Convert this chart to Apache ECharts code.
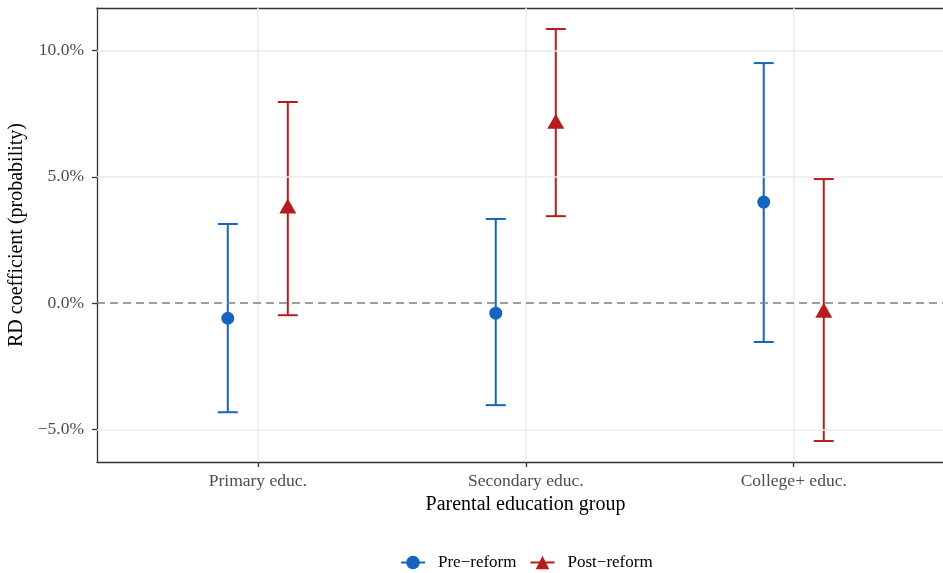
<!DOCTYPE html>
<html>
<head>
<meta charset="UTF-8">
<script src="https://cdn.jsdelivr.net/npm/echarts@6.0.0/dist/echarts.min.js"></script>
<style>
  html, body { margin: 0; padding: 0; background: #fff; }
  #main { width: 943px; height: 573px; }
</style>
</head>
<body>
<div id="main"></div>
<script type="text/javascript">
// data (percent)
var groups = ['Primary educ.', 'Secondary educ.', 'College+ educ.'];
var preEst  = [-0.60, -0.40, 4.00];
var preLow  = [-4.32, -4.04, -1.54];
var preHigh = [3.13, 3.33, 9.50];
var postEst  = [3.84, 7.20, -0.28];
var postLow  = [-0.48, 3.44, -5.46];
var postHigh = [7.96, 10.85, 4.91];
var yTicks = [-5, 0, 5, 10];

var blue = '#1565C0';
var red = '#B71C1C';
var dodge = 0.112;
var font = 'Liberation Serif';

function pts(est, off) {
  return est.map(function (v, i) { return [i + 1 + off, v]; });
}
function bars(lo, hi, off) {
  return lo.map(function (v, i) { return [i + 1 + off, v, hi[i]]; });
}
function errRender(color) {
  return function (params, api) {
    var x = api.value(0);
    var a = api.coord([x, api.value(1)]);
    var b = api.coord([x, api.value(2)]);
    var hw = 10;
    var st = { stroke: color, lineWidth: 2 };
    return {
      type: 'group',
      children: [
        { type: 'line', shape: { x1: a[0], y1: a[1], x2: b[0], y2: b[1] }, style: st },
        { type: 'line', shape: { x1: a[0] - hw, y1: a[1], x2: a[0] + hw, y2: a[1] }, style: st },
        { type: 'line', shape: { x1: b[0] - hw, y1: b[1], x2: b[0] + hw, y2: b[1] }, style: st }
      ]
    };
  };
}

var chart = echarts.init(document.getElementById('main'));
var gridLine = { color: '#ebebeb', width: 1.5, type: 'solid' };
var axisCol = { color: '#333', width: 1.3 };

chart.setOption({
  animation: false,
  textStyle: { fontFamily: font },
  // panel runs past the right edge of the picture; x max trimmed so the scale matches
  grid: { left: 97, top: 8, right: 0, bottom: 111, outerBoundsMode: 'none', containLabel: false },
  legend: {
    top: 549, left: 395,
    itemWidth: 24, itemHeight: 17, itemGap: 13,
    textStyle: { fontFamily: font, fontSize: 17, color: '#000', padding: [0, 0, 0, 8] },
    lineStyle: { width: 2, opacity: 1 },
    data: ['Pre\u2212reform', 'Post\u2212reform']
  },
  xAxis: [{
    type: 'value', min: 0.4, max: 3.557,
    name: 'Parental education group', nameLocation: 'middle', nameGap: 33,
    nameTextStyle: { fontFamily: font, fontSize: 20, color: '#000', padding: [0, 0, 0, 11] },
    axisLine: { show: true, onZero: false, lineStyle: axisCol },
    axisTick: { show: true, customValues: [1, 2, 3], length: 5, lineStyle: axisCol },
    axisLabel: {
      customValues: [1, 2, 3], margin: 10,
      fontFamily: font, fontSize: 17.5, color: '#4d4d4d',
      formatter: function (v) { return groups[Math.round(v) - 1]; }
    },
    splitLine: { show: false }
  }, {
    type: 'value', min: 0.4, max: 3.557, position: 'top',
    axisLine: { show: true, onZero: false, lineStyle: axisCol },
    axisTick: { show: false }, axisLabel: { show: false }, splitLine: { show: false }
  }],
  yAxis: {
    type: 'value', min: -6.29, max: 11.68,
    name: 'RD coefficient (probability)', nameLocation: 'middle', nameGap: 62, nameRotate: 90,
    nameTextStyle: { fontFamily: font, fontSize: 20, color: '#000' },
    axisLine: { show: true, onZero: false, lineStyle: axisCol },
    axisTick: { show: true, customValues: yTicks, length: 5, lineStyle: axisCol },
    axisLabel: {
      customValues: yTicks, margin: 13,
      fontFamily: font, fontSize: 17.5, color: '#4d4d4d',
      formatter: function (v) { return (v < 0 ? '\u2212' : '') + Math.abs(v).toFixed(1) + '%'; }
    },
    splitLine: { show: false }
  },
  series: [
    {
      name: 'Pre\u2212reform', type: 'line', z: 4,
      data: pts(preEst, -dodge),
      symbol: 'circle', symbolSize: 13,
      itemStyle: { color: blue },
      lineStyle: { color: blue, opacity: 0 }
    },
    {
      name: 'Post\u2212reform', type: 'line', z: 4,
      data: pts(postEst, dodge),
      symbol: 'triangle', symbolSize: [17, 15],
      itemStyle: { color: red },
      lineStyle: { color: red, opacity: 0 }
    },
    {
      name: 'gridlines', type: 'line', data: [], z: 0, silent: true,
      markLine: {
        silent: true, symbol: 'none', label: { show: false },
        lineStyle: gridLine,
        data: yTicks.filter(function (v) { return v !== 0; }).map(function (v) { return { yAxis: v }; })
          .concat(groups.map(function (g, i) { return { xAxis: i + 1 }; }))
      }
    },
    {
      name: 'zero', type: 'line', data: [], z: 1, silent: true,
      markLine: {
        silent: true, symbol: 'none', label: { show: false },
        lineStyle: { color: '#7f7f7f', width: 1.5, type: [8, 5] },
        data: [{ yAxis: 0 }]
      }
    },
    {
      name: 'Pre\u2212reform', type: 'custom', z: 3,
      renderItem: errRender(blue), data: bars(preLow, preHigh, -dodge),
      itemStyle: { color: blue },
      encode: { x: 0, y: [1, 2] }
    },
    {
      name: 'Post\u2212reform', type: 'custom', z: 3,
      renderItem: errRender(red), data: bars(postLow, postHigh, dodge),
      itemStyle: { color: red },
      encode: { x: 0, y: [1, 2] }
    }
  ]
});
</script>
</body>
</html>
